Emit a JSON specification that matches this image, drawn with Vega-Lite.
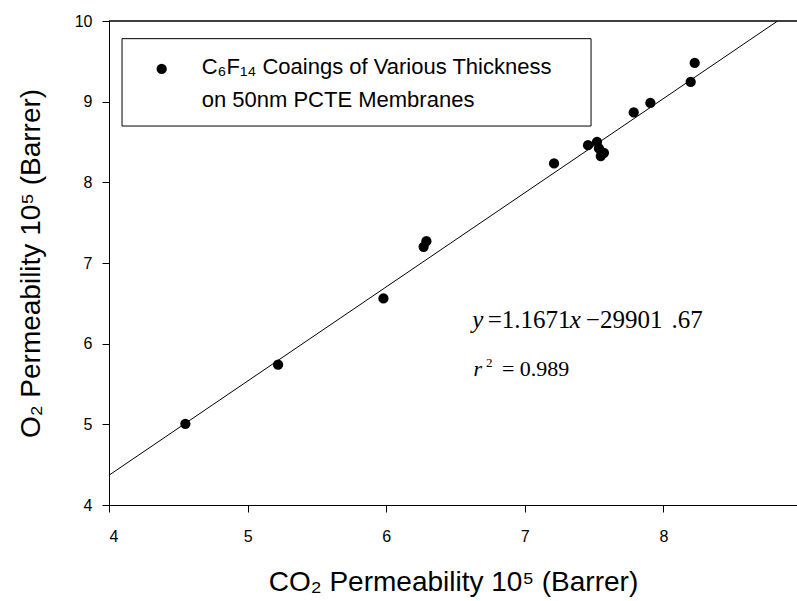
{
  "$schema": "https://vega.github.io/schema/vega-lite/v6.json",
  "autosize": "none",
  "width": 688,
  "height": 484,
  "padding": {"left": 109, "top": 21, "right": 0, "bottom": 96},
  "background": "white",
  "view": {"stroke": null},
  "config": {
    "font": "Liberation Sans",
    "axis": {
      "domainColor": "black",
      "tickColor": "black",
      "tickSize": 7,
      "grid": false,
      "labelColor": "black",
      "titleColor": "black",
      "labelFont": "Liberation Sans",
      "titleFont": "Liberation Sans",
      "labelFontSize": 16,
      "titleFontSize": 28,
      "titleFontWeight": "normal",
      "format": "d"
    }
  },
  "datasets": {
    "points": [
      {"co2": 4.551, "o2": 5.007},
      {"co2": 5.22, "o2": 5.74},
      {"co2": 5.98, "o2": 6.56},
      {"co2": 6.27, "o2": 7.2},
      {"co2": 6.29, "o2": 7.27},
      {"co2": 7.211, "o2": 8.235},
      {"co2": 7.456, "o2": 8.461},
      {"co2": 7.521, "o2": 8.502},
      {"co2": 7.535, "o2": 8.42},
      {"co2": 7.548, "o2": 8.325},
      {"co2": 7.571, "o2": 8.366},
      {"co2": 7.786, "o2": 8.866},
      {"co2": 7.906, "o2": 8.985},
      {"co2": 8.197, "o2": 9.245},
      {"co2": 8.226, "o2": 9.48}
    ],
    "fit": [
      {"co2": 4.0, "o2": 4.369},
      {"co2": 8.824, "o2": 10.0}
    ],
    "legendbox": [
      {"x1": 4.094, "x2": 7.478, "y1": 9.781, "y2": 8.698}
    ],
    "legenddot": [
      {"x": 4.38, "y": 9.405}
    ],
    "legendtext": [
      {"t": "C₆F₁₄ Coaings of Various Thickness", "x": 4.669, "y": 9.343},
      {"t": "on 50nm PCTE Membranes", "x": 4.669, "y": 8.934}
    ],
    "eqitalic": [
      {"t": "y", "x": 6.62, "y": 6.194},
      {"t": "x", "x": 7.324, "y": 6.194}
    ],
    "ritalic": [
      {"t": "r", "x": 6.63, "y": 5.599}
    ],
    "eqnormal": [
      {"t": "=1.1671", "x": 6.732, "y": 6.194},
      {"t": "−", "x": 7.44, "y": 6.194},
      {"t": "29901", "x": 7.542, "y": 6.194},
      {"t": ".67", "x": 8.058, "y": 6.194}
    ],
    "rnormal": [
      {"t": "= 0.989", "x": 6.835, "y": 5.599}
    ],
    "rsup": [
      {"t": "2", "x": 6.72, "y": 5.711}
    ]
  },
  "layer": [
    {
      "data": {"name": "fit"},
      "mark": {"type": "line", "color": "black", "strokeWidth": 1, "clip": true},
      "encoding": {
        "x": {
          "field": "co2", "type": "quantitative",
          "scale": {"domain": [4, 8.964], "nice": false, "zero": false},
          "axis": {"values": [4, 5, 6, 7, 8], "labelPadding": 16, "title": "CO₂ Permeability 10⁵ (Barrer)", "titlePadding": 24}
        },
        "y": {
          "field": "o2", "type": "quantitative",
          "scale": {"domain": [4, 10], "nice": false, "zero": false},
          "axis": {"values": [4, 5, 6, 7, 8, 9, 10], "labelPadding": 10, "title": "O₂ Permeability 10⁵ (Barrer)", "titlePadding": 29}
        }
      }
    },
    {
      "data": {"name": "points"},
      "mark": {"type": "circle", "color": "black", "opacity": 1, "size": 105},
      "encoding": {
        "x": {"field": "co2", "type": "quantitative"},
        "y": {"field": "o2", "type": "quantitative"}
      }
    },
    {
      "data": {"name": "fit"},
      "mark": {"type": "rule", "color": "black", "strokeWidth": 1},
      "encoding": {
        "x": {"datum": 4},
        "x2": {"datum": 8.964},
        "y": {"datum": 10}
      }
    },
    {
      "data": {"name": "legendbox"},
      "mark": {"type": "rect", "fill": "white", "stroke": "black", "strokeWidth": 1},
      "encoding": {
        "x": {"field": "x1", "type": "quantitative"},
        "x2": {"field": "x2"},
        "y": {"field": "y1", "type": "quantitative"},
        "y2": {"field": "y2"}
      }
    },
    {
      "data": {"name": "legenddot"},
      "mark": {"type": "circle", "color": "black", "opacity": 1, "size": 105},
      "encoding": {
        "x": {"field": "x", "type": "quantitative"},
        "y": {"field": "y", "type": "quantitative"}
      }
    },
    {
      "data": {"name": "legendtext"},
      "mark": {"type": "text", "align": "left", "baseline": "alphabetic", "font": "Liberation Sans", "fontSize": 22, "color": "black"},
      "encoding": {
        "x": {"field": "x", "type": "quantitative"},
        "y": {"field": "y", "type": "quantitative"},
        "text": {"field": "t"}
      }
    },
    {
      "data": {"name": "eqitalic"},
      "mark": {"type": "text", "align": "left", "baseline": "alphabetic", "font": "Liberation Serif", "fontStyle": "italic", "fontSize": 25, "color": "black"},
      "encoding": {
        "x": {"field": "x", "type": "quantitative"},
        "y": {"field": "y", "type": "quantitative"},
        "text": {"field": "t"}
      }
    },
    {
      "data": {"name": "eqnormal"},
      "mark": {"type": "text", "align": "left", "baseline": "alphabetic", "font": "Liberation Serif", "fontSize": 25, "color": "black"},
      "encoding": {
        "x": {"field": "x", "type": "quantitative"},
        "y": {"field": "y", "type": "quantitative"},
        "text": {"field": "t"}
      }
    },
    {
      "data": {"name": "ritalic"},
      "mark": {"type": "text", "align": "left", "baseline": "alphabetic", "font": "Liberation Serif", "fontStyle": "italic", "fontSize": 22, "color": "black"},
      "encoding": {
        "x": {"field": "x", "type": "quantitative"},
        "y": {"field": "y", "type": "quantitative"},
        "text": {"field": "t"}
      }
    },
    {
      "data": {"name": "rnormal"},
      "mark": {"type": "text", "align": "left", "baseline": "alphabetic", "font": "Liberation Serif", "fontSize": 22, "color": "black"},
      "encoding": {
        "x": {"field": "x", "type": "quantitative"},
        "y": {"field": "y", "type": "quantitative"},
        "text": {"field": "t"}
      }
    },
    {
      "data": {"name": "rsup"},
      "mark": {"type": "text", "align": "left", "baseline": "alphabetic", "font": "Liberation Serif", "fontSize": 13, "color": "black"},
      "encoding": {
        "x": {"field": "x", "type": "quantitative"},
        "y": {"field": "y", "type": "quantitative"},
        "text": {"field": "t"}
      }
    }
  ]
}
